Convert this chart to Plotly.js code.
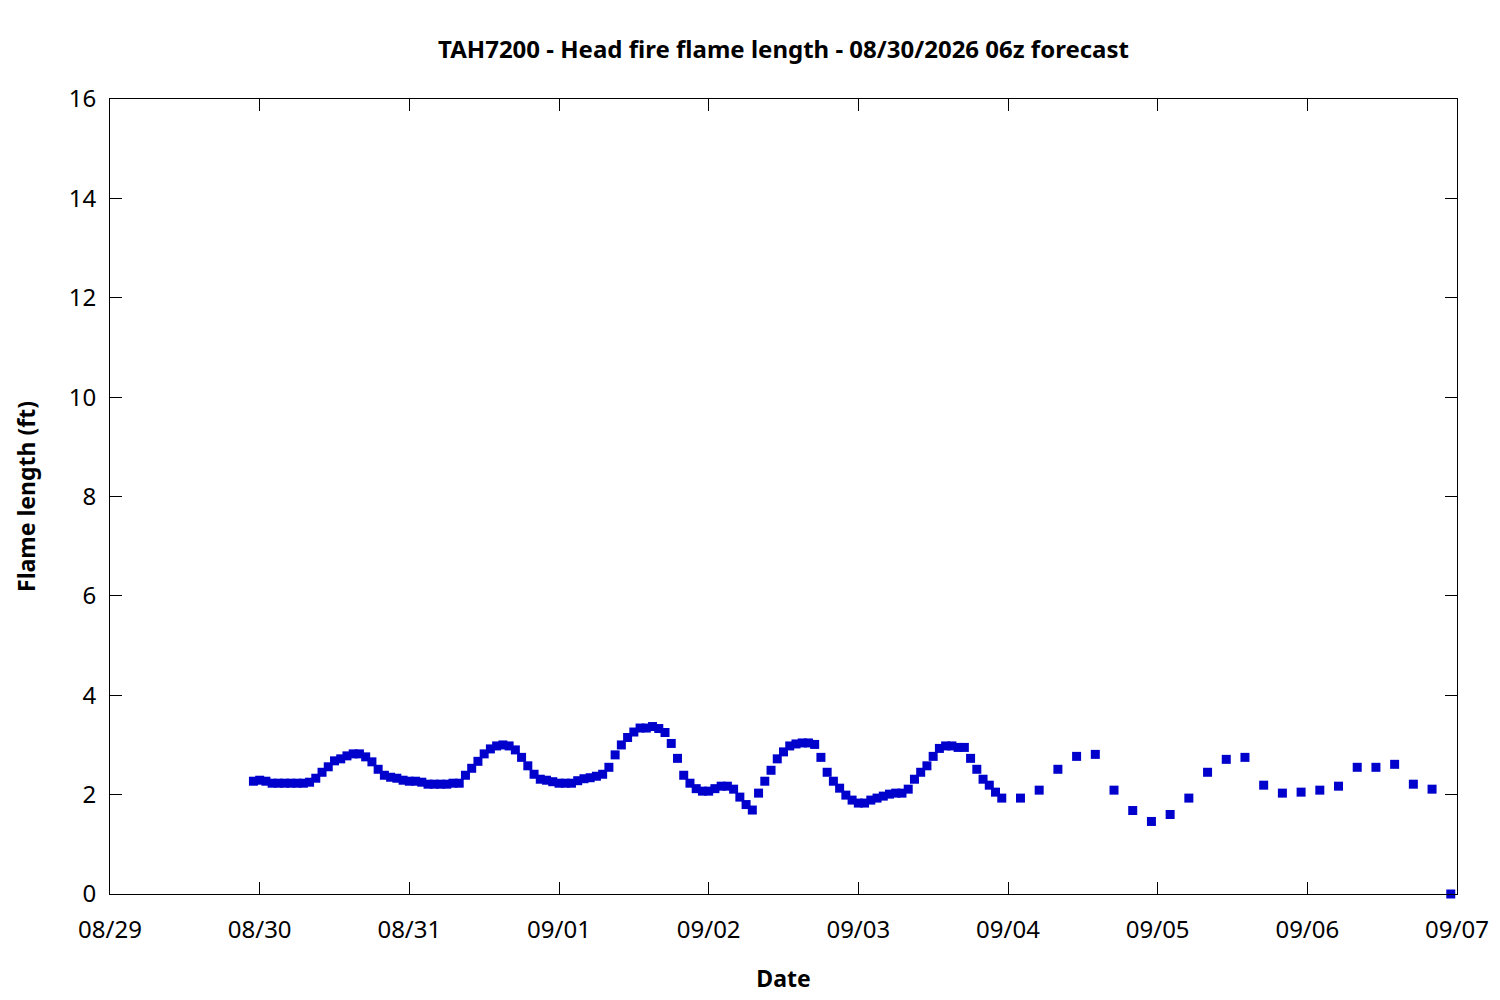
<!DOCTYPE html>
<html>
<head>
<meta charset="utf-8">
<script src="https://cdn.plot.ly/plotly-3.0.1.min.js"></script>
<style>
  html, body { margin: 0; padding: 0; background: #fff; }
  #plot { width: 1500px; height: 1000px; }
</style>
</head>
<body>
<div id="plot"></div>
<script>
// hourly forecast values, starting 08/29 23:00
const hourlyStart = '2026-08-29T23:00:00Z';
const hourlyValues = [
  2.27,
  2.29, 2.27, 2.23, 2.23, 2.23, 2.23, 2.23, 2.23, 2.25, 2.33, 2.45, 2.56,
  2.68, 2.72, 2.78, 2.82, 2.82, 2.76, 2.66, 2.51, 2.39, 2.35, 2.33, 2.29,
  2.27, 2.27, 2.25, 2.21, 2.21, 2.21, 2.21, 2.23, 2.23, 2.39, 2.53, 2.67,
  2.82, 2.92, 2.98, 3.00, 2.98, 2.90, 2.75, 2.58, 2.41, 2.31, 2.29, 2.26,
  2.23, 2.23, 2.23, 2.28, 2.32, 2.34, 2.37, 2.41, 2.55, 2.80, 3.00, 3.15,
  3.26, 3.34, 3.34, 3.37, 3.33, 3.25, 3.03, 2.73, 2.39, 2.23, 2.12, 2.07,
  2.07, 2.12, 2.17, 2.17, 2.11, 1.95, 1.80, 1.69, 2.03, 2.27, 2.49, 2.72,
  2.86, 2.98, 3.02, 3.04, 3.04, 3.01, 2.75, 2.45, 2.27, 2.13, 1.99, 1.89,
  1.83, 1.83, 1.89, 1.93, 1.97, 2.01, 2.03, 2.03, 2.11, 2.31, 2.45, 2.58,
  2.77, 2.93, 2.98, 2.98, 2.95, 2.95, 2.73, 2.51, 2.31, 2.19, 2.05, 1.93,
];

// 3-hourly forecast values, starting 09/04 02:00
const threeHourlyStart = '2026-09-04T02:00:00Z';
const threeHourlyValues = [
  1.93, 2.09, 2.51, 2.77, 2.81, 2.09, 1.68, 1.46,
  1.60, 1.93, 2.45, 2.71, 2.75, 2.19, 2.03, 2.05,
  2.09, 2.17, 2.55, 2.55, 2.61, 2.21, 2.11, 0.00,
];

const xRange = ['2026-08-29 00:00', '2026-09-07 00:00'];
const yRange = [0, 16];

function timeStamps(start, stepHours, count) {
  const t0 = Date.parse(start);
  const out = [];
  for (let i = 0; i < count; i++) {
    const d = new Date(t0 + i * stepHours * 3600000);
    out.push(d.toISOString().slice(0, 16).replace('T', ' '));
  }
  return out;
}

const x = timeStamps(hourlyStart, 1, hourlyValues.length)
  .concat(timeStamps(threeHourlyStart, 3, threeHourlyValues.length));
const y = hourlyValues.concat(threeHourlyValues);

const trace = {
  x,
  y,
  type: 'scatter',
  mode: 'markers',
  marker: { symbol: 'square', size: 9, color: '#0000CC', line: { width: 0 } },
  cliponaxis: false,
  showlegend: false,
};

const family = 'Noto Sans, sans-serif';
const tickFont = { family, size: 24, color: '#000' };
const labelFont = { family, size: 23, color: '#000' };

const layout = {
  width: 1500,
  height: 1000,
  margin: { l: 110, r: 43, t: 99, b: 106 },
  paper_bgcolor: '#fff',
  plot_bgcolor: '#fff',
  font: tickFont,
  title: {
    text: '<b>TAH7200 - Head fire flame length - 08/30/2026 06z forecast</b>',
    font: { family, size: 24, color: '#000' },
    x: 0.5,
    xref: 'paper',
    y: 0.95,
    yref: 'container',
    yanchor: 'middle',
  },
  xaxis: {
    type: 'date',
    range: xRange,
    dtick: 86400000,
    tick0: '2026-08-29',
    tickformat: '%m/%d',
    ticks: 'inside',
    ticklen: 12,
    tickcolor: '#000',
    tickwidth: 1,
    showline: true,
    linecolor: '#000',
    linewidth: 1,
    mirror: 'allticks',
    showgrid: false,
    zeroline: false,
    ticklabelstandoff: 14,
    tickfont: tickFont,
    title: { text: '<b>Date</b>', font: labelFont, standoff: 27 },
  },
  yaxis: {
    range: yRange,
    dtick: 2,
    ticks: 'inside',
    ticklen: 12,
    tickcolor: '#000',
    tickwidth: 1,
    showline: true,
    linecolor: '#000',
    linewidth: 1,
    mirror: 'allticks',
    showgrid: false,
    zeroline: false,
    ticklabelstandoff: 8,
    tickfont: tickFont,
    title: { text: '<b>Flame length (ft)</b>', font: labelFont, standoff: 26 },
  },
};

Plotly.newPlot('plot', [trace], layout, { staticPlot: true });
</script>
</body>
</html>
